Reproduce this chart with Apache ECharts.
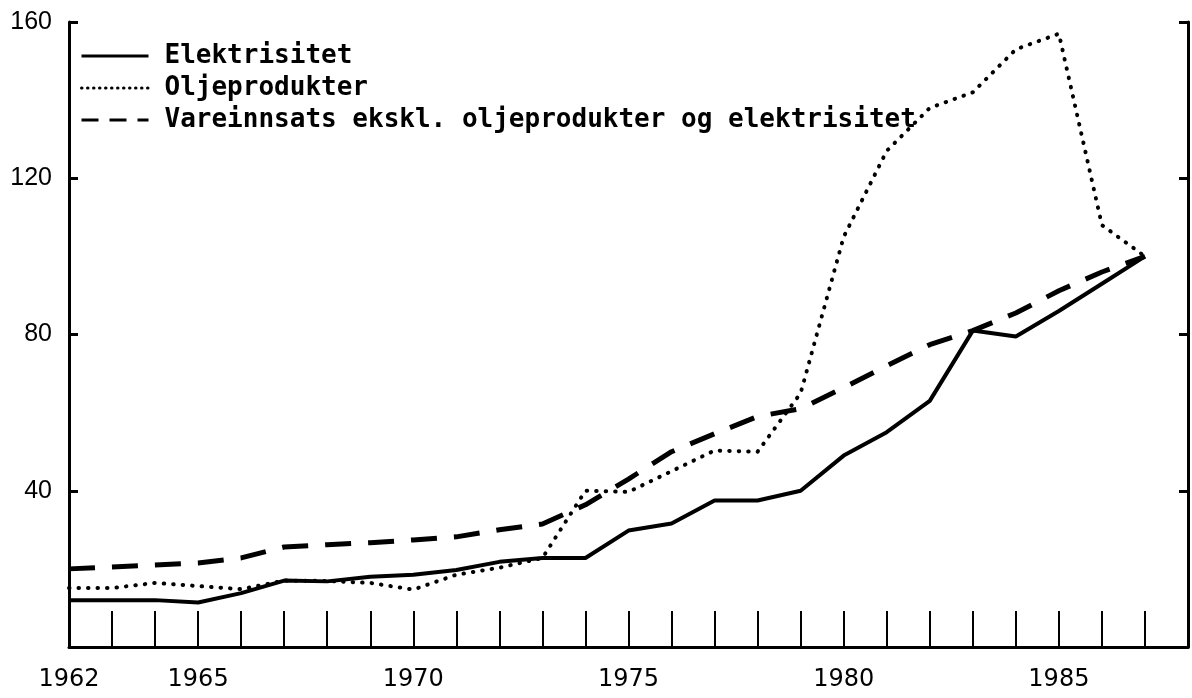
<!DOCTYPE html>
<html>
<head>
<meta charset="utf-8">
<script src="https://cdn.jsdelivr.net/npm/echarts@6/dist/echarts.min.js"></script>
<style>
html,body{margin:0;padding:0;background:#fff;}
#chart{width:1192px;height:698px;}
</style>
</head>
<body>
<div id="chart"></div>
<script>
const years = [1962,1963,1964,1965,1966,1967,1968,1969,1970,1971,1972,1973,1974,1975,1976,1977,1978,1979,1980,1981,1982,1983,1984,1985,1986,1987];
const elektrisitet = [12,12,12,11.4,13.8,17,16.8,18,18.5,19.7,21.8,22.8,22.8,29.8,31.6,37.5,37.5,40,49,55,63,81,79.5,86,93,100];
const oljeprodukter = [15.1,15.1,16.4,15.6,14.8,17,16.9,16.4,14.7,18.5,20.3,22.8,40,39.7,45,50.3,50,65,105,127,138,142,153,157,108,100];
const vareinnsats = [20,20.5,21,21.5,22.8,25.6,26.2,26.7,27.4,28.2,30,31.5,36.4,43,50,54.6,59,61,66.4,72,77.4,81,85.5,91.2,96,100];
const seriesNames = ['Elektrisitet','Oljeprodukter','Vareinnsats ekskl. oljeprodukter og elektrisitet'];
const xLabelYears = [1962,1965,1970,1975,1980,1985];
const yTicks = [40,80,120,160];

const pairs = v => years.map((y,i)=>[y,v[i]]);
const chart = echarts.init(document.getElementById('chart'));
const black = '#000';
const hidden = {opacity:0, color:'transparent', borderWidth:0};
chart.setOption({
  animation:false,
  backgroundColor:'#fff',
  grid:{left:69,right:4,top:22,bottom:51},
  legend:{
    orient:'vertical', left:75, top:38, itemWidth:67, itemHeight:14, itemGap:6,
    itemStyle:hidden,
    textStyle:{fontFamily:'DejaVu Sans Mono', fontSize:26, fontWeight:'bold', color:black, lineHeight:26, padding:[0,0,0,11]},
    data:[
      {name:seriesNames[0], itemStyle:hidden, lineStyle:{width:3,type:'solid',color:black}},
      {name:seriesNames[1], itemStyle:hidden, lineStyle:{width:3,type:[0.5,5.5],cap:'round',color:black}},
      {name:seriesNames[2], itemStyle:hidden, lineStyle:{width:3,type:[17,11],color:black}}
    ]
  },
  xAxis:{
    type:'value', min:1962, max:1988, interval:1,
    axisLine:{lineStyle:{color:black,width:3}},
    axisTick:{inside:true,length:36,lineStyle:{color:black,width:2}},
    splitLine:{show:false},
    axisLabel:{
      margin:21, color:black, fontFamily:'DejaVu Sans', fontSize:24,
      formatter:v=> xLabelYears.includes(v) ? String(v) : ''
    }
  },
  yAxis:[
    {type:'value', min:0, max:160, interval:40, position:'left',
     axisLine:{show:true,lineStyle:{color:black,width:3}},
     axisTick:{inside:true,length:9,lineStyle:{color:black,width:3}},
     splitLine:{show:false},
     axisLabel:{margin:17,color:black,fontFamily:'Liberation Sans',fontSize:25,
       formatter:v=> yTicks.includes(v)? String(v):''}},
    {type:'value', min:0, max:160, interval:40, position:'right',
     axisLine:{show:true,lineStyle:{color:black,width:3}},
     axisTick:{inside:true,length:9,lineStyle:{color:black,width:3}},
     splitLine:{show:false}, axisLabel:{show:false}}
  ],
  series:[
    {name:seriesNames[0], type:'line', data:pairs(elektrisitet), symbol:'none', showSymbol:false,
     lineStyle:{color:black,width:4,type:'solid'}, itemStyle:{color:black}, z:3},
    {name:seriesNames[1], type:'line', data:pairs(oljeprodukter), symbol:'none', showSymbol:false,
     lineStyle:{color:black,width:4,type:[0.5,9],cap:'round'}, itemStyle:{color:black}, z:2},
    {name:seriesNames[2], type:'line', data:pairs(vareinnsats), symbol:'none', showSymbol:false,
     lineStyle:{color:black,width:5,type:[26,17]}, itemStyle:{color:black}, z:1}
  ]
});
</script>
</body>
</html>
